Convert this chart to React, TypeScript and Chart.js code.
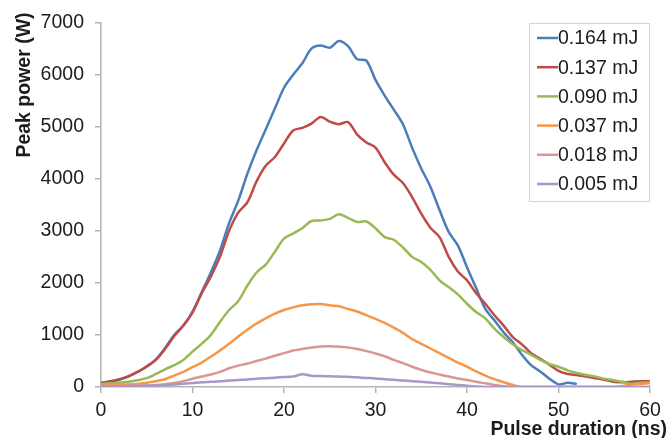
import React, { useEffect, useRef } from "react";
import { Chart, registerables } from "chart.js";

Chart.register(...registerables);

const durations = [
  0, 1, 2, 3, 4, 5, 6, 7, 8, 9, 10, 11, 12, 13, 14, 15, 16, 17, 18, 19, 20,
  21, 22, 23, 24, 25, 26, 27, 28, 29, 30, 31, 32, 33, 34, 35, 36, 37, 38, 39, 40,
  41, 42, 43, 44, 45, 46, 47, 48, 49, 50, 51, 52, 53, 54, 55, 56, 57, 58, 59, 60,
];

const seriesLabels = ["0.164 mJ", "0.137 mJ", "0.090 mJ", "0.037 mJ", "0.018 mJ", "0.005 mJ"];
const seriesColors = ["#4A7EBB", "#BE4B48", "#98B954", "#F79646", "#D99694", "#A897C7"];

const p164 = [
  80, 100, 140, 200, 290, 390, 530, 750, 1000, 1180, 1450, 1820, 2200, 2620, 3150, 3580, 4100, 4550, 4950, 5350, 5750,
  6000, 6220, 6500, 6560, 6520, 6650, 6550, 6300, 6270, 5900, 5600, 5330, 5050, 4600, 4200, 3850, 3400, 2980, 2720, 2300,
  1900, 1500, 1280, 1050, 860, 620, 420, 300, 160, 50, 80, 60, null, null, null, null, null, null, null, null,
];
const p137 = [
  80, 110, 150, 210, 290, 400, 520, 730, 980, 1180, 1430, 1800, 2120, 2500, 3000, 3350, 3550, 3950, 4250, 4420, 4680,
  4930, 4980, 5060, 5190, 5100, 5050, 5090, 4850, 4700, 4600, 4320, 4080, 3920, 3650, 3330, 3060, 2880, 2500, 2220, 2050,
  1800, 1600, 1380, 1180, 960, 820, 650, 540, 430, 310, 250, 230, 200, 170, 140, 100, 90, 100, 110, 110,
];
const p090 = [
  60, 70, 80, 100, 130, 170, 250, 340, 420, 520, 680, 830, 1000, 1250, 1480, 1650, 1950, 2200, 2350, 2600, 2850,
  2950, 3050, 3190, 3200, 3230, 3320, 3250, 3170, 3180, 3050, 2880, 2830, 2680, 2500, 2400, 2250, 2050, 1920, 1780, 1600,
  1440, 1320, 1120, 960, 820, 710, 620, 520, 440, 390, 320, 270, 230, 200, 160, 130, 100, 60, 80, 90,
];
const p037 = [
  40, 40, 45, 50, 60, 80, 110, 150, 220, 290, 380, 470, 580, 700, 830, 970, 1100, 1220, 1320, 1410, 1480,
  1530, 1570, 1590, 1595, 1570, 1550, 1500, 1450, 1380, 1310, 1230, 1140, 1040, 920, 830, 740, 650, 560, 470, 390,
  300, 220, 150, 90, 40, 0, 0, 0, 0, 0, 0, 0, 0, 0, 0, 0, 20, 50, 60, 70,
];
const p018 = [
  20, 20, 20, 22, 25, 30, 40, 55, 75, 110, 160, 200, 240, 290, 360, 410, 450, 500, 545, 600, 650,
  700, 730, 760, 780, 785, 775, 760, 730, 690, 645, 590, 520, 460, 390, 330, 280, 240, 200, 165, 135,
  100, 70, 40, 15, 0, 0, 0, 0, 0, 0, 0, 0, 0, 0, 0, 0, 0, 0, 0, 0,
];
const p005 = [
  10, 12, 15, 18, 20, 25, 30, 40, 50, 60, 75, 90, 100, 110, 125, 135, 145, 160, 170, 180, 190,
  200, 245, 215, 210, 205, 200, 195, 185, 175, 165, 150, 140, 125, 112, 100, 85, 70, 55, 40, 25,
  10, 0, 0, 0, 0, 0, 0, 0, 0, 0, 0, 0, 0, 0, 0, 0, 0, 0, 0, 0,
];

const allSeries = [p164, p137, p090, p037, p018, p005];

const xTitle = "Pulse duration (ns)";
const yTitle = "Peak power (W)";
const FONT = "'Liberation Sans', Arial, sans-serif";
const TEXT = "#1c1c1c";
const AXIS = "#b4b4b4";

const overlayPlugin = {
  id: "overlay",
  afterDraw(chart: any) {
    const ctx = chart.ctx;
    ctx.save();
    ctx.fillStyle = TEXT;
    ctx.font = `bold 19.5px ${FONT}`;
    ctx.textAlign = "right";
    ctx.textBaseline = "middle";
    ctx.fillText(xTitle, 667, 430);
    ctx.save();
    ctx.translate(25, 85);
    ctx.rotate(-Math.PI / 2);
    ctx.textAlign = "center";
    ctx.fillText(yTitle, 0, 0);
    ctx.restore();
    const bx = 529, by = 23, bw = 120, bh = 178;
    ctx.fillStyle = "#ffffff";
    ctx.fillRect(bx, by, bw, bh);
    ctx.strokeStyle = "#d4d4d4";
    ctx.lineWidth = 1;
    ctx.strokeRect(bx + 0.5, by + 0.5, bw, bh);
    ctx.font = `19.5px ${FONT}`;
    ctx.textAlign = "left";
    ctx.textBaseline = "middle";
    chart.data.datasets.forEach((ds: any, i: number) => {
      const cy = 38 + i * 29.2;
      ctx.strokeStyle = ds.borderColor;
      ctx.lineWidth = 2.5;
      ctx.beginPath();
      ctx.moveTo(537, cy);
      ctx.lineTo(558, cy);
      ctx.stroke();
      ctx.fillStyle = TEXT;
      ctx.fillText(ds.label, 558, cy + 1);
    });
    ctx.restore();
  },
};

export default function App() {
  const ref = useRef<HTMLCanvasElement>(null);
  useEffect(() => {
    if (!ref.current) return;
    const datasets = allSeries.map((vals, i) => ({
      label: seriesLabels[i],
      data: durations.map((t, j) => ({ x: t, y: vals[j] })),
      borderColor: seriesColors[i],
      backgroundColor: seriesColors[i],
      borderWidth: 2.5,
      pointRadius: 0,
      tension: 0.3,
      spanGaps: false,
      order: allSeries.length - i,
      fill: false,
    }));
    const chart = new Chart(ref.current, {
      type: "line",
      data: { datasets },
      plugins: [overlayPlugin],
      options: {
        animation: false,
        responsive: false,
        maintainAspectRatio: false,
        devicePixelRatio: 1,
        layout: { padding: { top: 21, right: 22, left: 0, bottom: 0 } },
        plugins: { legend: { display: false }, tooltip: { enabled: false } },
        scales: {
          x: {
            type: "linear",
            min: 0,
            max: 60,
            afterFit: (s: any) => { s.height = 51; },
            ticks: { stepSize: 10, color: TEXT, font: { family: FONT, size: 19.5 }, padding: 6, maxRotation: 0, callback: (v: any) => String(v) },
            grid: { display: true, drawOnChartArea: false, drawTicks: true, tickLength: 6, color: AXIS, lineWidth: 1.5 },
            border: { display: true, color: AXIS, width: 1.5 },
          },
          y: {
            min: 0,
            max: 7000,
            afterFit: (s: any) => { s.width = 101; },
            ticks: { stepSize: 1000, color: TEXT, font: { family: FONT, size: 19.5 }, padding: 11, callback: (v: any) => String(v) },
            grid: { display: true, drawOnChartArea: false, drawTicks: true, tickLength: 6, color: AXIS, lineWidth: 1.5 },
            border: { display: true, color: AXIS, width: 1.5 },
          },
        },
      },
    });
    return () => chart.destroy();
  }, []);
  return (
    <div style={{ position: "fixed", left: 0, top: 0, width: 672, height: 438, background: "#fff" }}>
      <canvas ref={ref} width={672} height={438} style={{ display: "block", width: 672, height: 438 }} />
    </div>
  );
}
